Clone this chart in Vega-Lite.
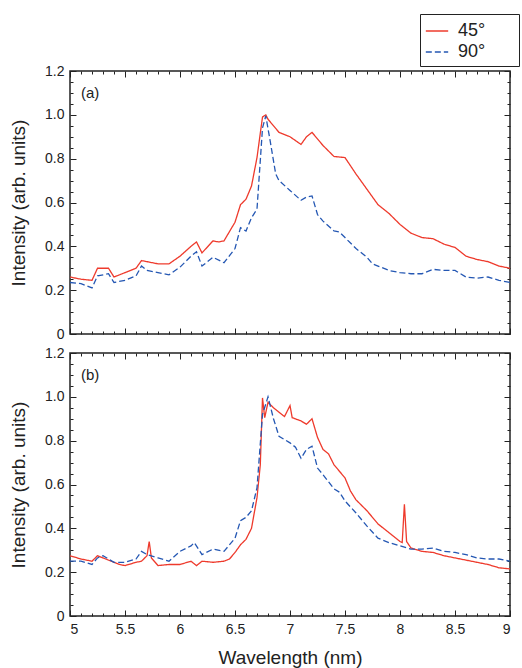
{
  "$schema": "https://vega.github.io/schema/vega-lite/v6.json",
  "padding": {"left": 8, "top": 13, "right": 12, "bottom": 4},
  "config": {
    "font": "Liberation Sans",
    "view": {"stroke": "#222", "strokeWidth": 1.5},
    "axis": {"grid": false, "domain": false, "tickColor": "#222", "labelColor": "#222", "titleColor": "#222", "labelFontSize": 14, "titleFontWeight": "normal", "titleFontSize": 19}
  },
  "spacing": 19,
  "bounds": "flush",
  "datasets": {
    "a": [
      {"wl": 5.0, "I": 0.26, "angle": "45°"}, {"wl": 5.1, "I": 0.25, "angle": "45°"}, {"wl": 5.2, "I": 0.245, "angle": "45°"}, {"wl": 5.25, "I": 0.3, "angle": "45°"},
      {"wl": 5.3, "I": 0.3, "angle": "45°"}, {"wl": 5.35, "I": 0.3, "angle": "45°"}, {"wl": 5.4, "I": 0.26, "angle": "45°"}, {"wl": 5.5, "I": 0.28, "angle": "45°"},
      {"wl": 5.6, "I": 0.3, "angle": "45°"}, {"wl": 5.65, "I": 0.335, "angle": "45°"}, {"wl": 5.7, "I": 0.33, "angle": "45°"}, {"wl": 5.8, "I": 0.32, "angle": "45°"},
      {"wl": 5.9, "I": 0.32, "angle": "45°"}, {"wl": 6.0, "I": 0.355, "angle": "45°"}, {"wl": 6.1, "I": 0.4, "angle": "45°"}, {"wl": 6.15, "I": 0.42, "angle": "45°"},
      {"wl": 6.2, "I": 0.37, "angle": "45°"}, {"wl": 6.3, "I": 0.425, "angle": "45°"}, {"wl": 6.35, "I": 0.42, "angle": "45°"}, {"wl": 6.4, "I": 0.425, "angle": "45°"},
      {"wl": 6.5, "I": 0.51, "angle": "45°"}, {"wl": 6.55, "I": 0.59, "angle": "45°"}, {"wl": 6.6, "I": 0.615, "angle": "45°"}, {"wl": 6.65, "I": 0.675, "angle": "45°"},
      {"wl": 6.7, "I": 0.805, "angle": "45°"}, {"wl": 6.75, "I": 0.99, "angle": "45°"}, {"wl": 6.78, "I": 1.0, "angle": "45°"}, {"wl": 6.8, "I": 0.98, "angle": "45°"},
      {"wl": 6.9, "I": 0.92, "angle": "45°"}, {"wl": 7.0, "I": 0.9, "angle": "45°"}, {"wl": 7.1, "I": 0.865, "angle": "45°"}, {"wl": 7.15, "I": 0.9, "angle": "45°"},
      {"wl": 7.2, "I": 0.92, "angle": "45°"}, {"wl": 7.3, "I": 0.86, "angle": "45°"}, {"wl": 7.4, "I": 0.81, "angle": "45°"}, {"wl": 7.5, "I": 0.805, "angle": "45°"},
      {"wl": 7.6, "I": 0.73, "angle": "45°"}, {"wl": 7.7, "I": 0.66, "angle": "45°"}, {"wl": 7.8, "I": 0.59, "angle": "45°"}, {"wl": 7.9, "I": 0.55, "angle": "45°"},
      {"wl": 8.0, "I": 0.5, "angle": "45°"}, {"wl": 8.1, "I": 0.46, "angle": "45°"}, {"wl": 8.2, "I": 0.44, "angle": "45°"}, {"wl": 8.3, "I": 0.435, "angle": "45°"},
      {"wl": 8.4, "I": 0.41, "angle": "45°"}, {"wl": 8.5, "I": 0.395, "angle": "45°"}, {"wl": 8.6, "I": 0.355, "angle": "45°"}, {"wl": 8.7, "I": 0.34, "angle": "45°"},
      {"wl": 8.8, "I": 0.33, "angle": "45°"}, {"wl": 8.9, "I": 0.31, "angle": "45°"}, {"wl": 9.0, "I": 0.3, "angle": "45°"},
      {"wl": 5.0, "I": 0.235, "angle": "90°"}, {"wl": 5.1, "I": 0.23, "angle": "90°"}, {"wl": 5.2, "I": 0.21, "angle": "90°"}, {"wl": 5.25, "I": 0.265, "angle": "90°"},
      {"wl": 5.35, "I": 0.275, "angle": "90°"}, {"wl": 5.4, "I": 0.235, "angle": "90°"}, {"wl": 5.5, "I": 0.245, "angle": "90°"}, {"wl": 5.6, "I": 0.265, "angle": "90°"},
      {"wl": 5.65, "I": 0.31, "angle": "90°"}, {"wl": 5.7, "I": 0.29, "angle": "90°"}, {"wl": 5.8, "I": 0.28, "angle": "90°"}, {"wl": 5.9, "I": 0.27, "angle": "90°"},
      {"wl": 6.0, "I": 0.305, "angle": "90°"}, {"wl": 6.1, "I": 0.355, "angle": "90°"}, {"wl": 6.15, "I": 0.375, "angle": "90°"}, {"wl": 6.2, "I": 0.31, "angle": "90°"},
      {"wl": 6.3, "I": 0.35, "angle": "90°"}, {"wl": 6.4, "I": 0.325, "angle": "90°"}, {"wl": 6.5, "I": 0.39, "angle": "90°"}, {"wl": 6.55, "I": 0.485, "angle": "90°"},
      {"wl": 6.6, "I": 0.47, "angle": "90°"}, {"wl": 6.65, "I": 0.53, "angle": "90°"}, {"wl": 6.7, "I": 0.57, "angle": "90°"}, {"wl": 6.75, "I": 0.94, "angle": "90°"},
      {"wl": 6.78, "I": 0.995, "angle": "90°"}, {"wl": 6.82, "I": 0.88, "angle": "90°"}, {"wl": 6.87, "I": 0.73, "angle": "90°"}, {"wl": 6.9, "I": 0.7, "angle": "90°"},
      {"wl": 7.0, "I": 0.655, "angle": "90°"}, {"wl": 7.1, "I": 0.61, "angle": "90°"}, {"wl": 7.15, "I": 0.625, "angle": "90°"}, {"wl": 7.2, "I": 0.63, "angle": "90°"},
      {"wl": 7.25, "I": 0.545, "angle": "90°"}, {"wl": 7.3, "I": 0.515, "angle": "90°"}, {"wl": 7.4, "I": 0.47, "angle": "90°"}, {"wl": 7.45, "I": 0.465, "angle": "90°"},
      {"wl": 7.5, "I": 0.44, "angle": "90°"}, {"wl": 7.6, "I": 0.39, "angle": "90°"}, {"wl": 7.7, "I": 0.35, "angle": "90°"}, {"wl": 7.75, "I": 0.32, "angle": "90°"},
      {"wl": 7.8, "I": 0.31, "angle": "90°"}, {"wl": 7.9, "I": 0.29, "angle": "90°"}, {"wl": 8.0, "I": 0.28, "angle": "90°"}, {"wl": 8.1, "I": 0.275, "angle": "90°"},
      {"wl": 8.2, "I": 0.275, "angle": "90°"}, {"wl": 8.3, "I": 0.295, "angle": "90°"}, {"wl": 8.4, "I": 0.29, "angle": "90°"}, {"wl": 8.5, "I": 0.29, "angle": "90°"},
      {"wl": 8.6, "I": 0.26, "angle": "90°"}, {"wl": 8.7, "I": 0.255, "angle": "90°"}, {"wl": 8.8, "I": 0.26, "angle": "90°"}, {"wl": 8.9, "I": 0.245, "angle": "90°"},
      {"wl": 9.0, "I": 0.235, "angle": "90°"}
    ],
    "b": [
      {"wl": 5.0, "I": 0.275, "angle": "45°"}, {"wl": 5.1, "I": 0.26, "angle": "45°"}, {"wl": 5.2, "I": 0.25, "angle": "45°"}, {"wl": 5.25, "I": 0.275, "angle": "45°"},
      {"wl": 5.3, "I": 0.265, "angle": "45°"}, {"wl": 5.4, "I": 0.245, "angle": "45°"}, {"wl": 5.45, "I": 0.235, "angle": "45°"}, {"wl": 5.5, "I": 0.23, "angle": "45°"},
      {"wl": 5.6, "I": 0.245, "angle": "45°"}, {"wl": 5.65, "I": 0.25, "angle": "45°"}, {"wl": 5.7, "I": 0.275, "angle": "45°"}, {"wl": 5.72, "I": 0.34, "angle": "45°"},
      {"wl": 5.74, "I": 0.265, "angle": "45°"}, {"wl": 5.8, "I": 0.23, "angle": "45°"}, {"wl": 5.9, "I": 0.235, "angle": "45°"}, {"wl": 6.0, "I": 0.235, "angle": "45°"},
      {"wl": 6.1, "I": 0.25, "angle": "45°"}, {"wl": 6.15, "I": 0.23, "angle": "45°"}, {"wl": 6.2, "I": 0.25, "angle": "45°"}, {"wl": 6.3, "I": 0.245, "angle": "45°"},
      {"wl": 6.4, "I": 0.25, "angle": "45°"}, {"wl": 6.45, "I": 0.26, "angle": "45°"}, {"wl": 6.5, "I": 0.29, "angle": "45°"}, {"wl": 6.55, "I": 0.325, "angle": "45°"},
      {"wl": 6.6, "I": 0.35, "angle": "45°"}, {"wl": 6.65, "I": 0.4, "angle": "45°"}, {"wl": 6.7, "I": 0.54, "angle": "45°"}, {"wl": 6.73, "I": 0.69, "angle": "45°"},
      {"wl": 6.75, "I": 0.995, "angle": "45°"}, {"wl": 6.77, "I": 0.905, "angle": "45°"}, {"wl": 6.8, "I": 0.975, "angle": "45°"}, {"wl": 6.85, "I": 0.95, "angle": "45°"},
      {"wl": 6.9, "I": 0.93, "angle": "45°"}, {"wl": 6.95, "I": 0.91, "angle": "45°"}, {"wl": 7.0, "I": 0.96, "angle": "45°"}, {"wl": 7.02, "I": 0.905, "angle": "45°"},
      {"wl": 7.1, "I": 0.89, "angle": "45°"}, {"wl": 7.15, "I": 0.875, "angle": "45°"}, {"wl": 7.2, "I": 0.9, "angle": "45°"}, {"wl": 7.25, "I": 0.815, "angle": "45°"},
      {"wl": 7.3, "I": 0.76, "angle": "45°"}, {"wl": 7.35, "I": 0.74, "angle": "45°"}, {"wl": 7.4, "I": 0.69, "angle": "45°"}, {"wl": 7.45, "I": 0.66, "angle": "45°"},
      {"wl": 7.5, "I": 0.63, "angle": "45°"}, {"wl": 7.55, "I": 0.57, "angle": "45°"}, {"wl": 7.6, "I": 0.53, "angle": "45°"}, {"wl": 7.7, "I": 0.48, "angle": "45°"},
      {"wl": 7.8, "I": 0.42, "angle": "45°"}, {"wl": 7.9, "I": 0.38, "angle": "45°"}, {"wl": 8.0, "I": 0.34, "angle": "45°"}, {"wl": 8.02, "I": 0.335, "angle": "45°"},
      {"wl": 8.04, "I": 0.51, "angle": "45°"}, {"wl": 8.06, "I": 0.34, "angle": "45°"}, {"wl": 8.1, "I": 0.31, "angle": "45°"}, {"wl": 8.2, "I": 0.295, "angle": "45°"},
      {"wl": 8.3, "I": 0.29, "angle": "45°"}, {"wl": 8.4, "I": 0.275, "angle": "45°"}, {"wl": 8.5, "I": 0.265, "angle": "45°"}, {"wl": 8.6, "I": 0.255, "angle": "45°"},
      {"wl": 8.7, "I": 0.245, "angle": "45°"}, {"wl": 8.8, "I": 0.235, "angle": "45°"}, {"wl": 8.9, "I": 0.22, "angle": "45°"}, {"wl": 9.0, "I": 0.215, "angle": "45°"},
      {"wl": 5.0, "I": 0.25, "angle": "90°"}, {"wl": 5.1, "I": 0.25, "angle": "90°"}, {"wl": 5.2, "I": 0.235, "angle": "90°"}, {"wl": 5.25, "I": 0.265, "angle": "90°"},
      {"wl": 5.3, "I": 0.275, "angle": "90°"}, {"wl": 5.4, "I": 0.245, "angle": "90°"}, {"wl": 5.5, "I": 0.245, "angle": "90°"}, {"wl": 5.6, "I": 0.26, "angle": "90°"},
      {"wl": 5.65, "I": 0.295, "angle": "90°"}, {"wl": 5.7, "I": 0.28, "angle": "90°"}, {"wl": 5.8, "I": 0.265, "angle": "90°"}, {"wl": 5.9, "I": 0.25, "angle": "90°"},
      {"wl": 6.0, "I": 0.295, "angle": "90°"}, {"wl": 6.1, "I": 0.32, "angle": "90°"}, {"wl": 6.13, "I": 0.335, "angle": "90°"}, {"wl": 6.2, "I": 0.28, "angle": "90°"},
      {"wl": 6.3, "I": 0.305, "angle": "90°"}, {"wl": 6.4, "I": 0.295, "angle": "90°"}, {"wl": 6.5, "I": 0.355, "angle": "90°"}, {"wl": 6.55, "I": 0.435, "angle": "90°"},
      {"wl": 6.6, "I": 0.45, "angle": "90°"}, {"wl": 6.65, "I": 0.48, "angle": "90°"}, {"wl": 6.7, "I": 0.585, "angle": "90°"}, {"wl": 6.75, "I": 0.92, "angle": "90°"},
      {"wl": 6.8, "I": 1.0, "angle": "90°"}, {"wl": 6.85, "I": 0.9, "angle": "90°"}, {"wl": 6.9, "I": 0.82, "angle": "90°"}, {"wl": 7.0, "I": 0.79, "angle": "90°"},
      {"wl": 7.05, "I": 0.77, "angle": "90°"}, {"wl": 7.1, "I": 0.72, "angle": "90°"}, {"wl": 7.15, "I": 0.76, "angle": "90°"}, {"wl": 7.2, "I": 0.775, "angle": "90°"},
      {"wl": 7.25, "I": 0.675, "angle": "90°"}, {"wl": 7.3, "I": 0.645, "angle": "90°"}, {"wl": 7.4, "I": 0.58, "angle": "90°"}, {"wl": 7.45, "I": 0.565, "angle": "90°"},
      {"wl": 7.5, "I": 0.525, "angle": "90°"}, {"wl": 7.6, "I": 0.47, "angle": "90°"}, {"wl": 7.7, "I": 0.41, "angle": "90°"}, {"wl": 7.8, "I": 0.355, "angle": "90°"},
      {"wl": 7.9, "I": 0.335, "angle": "90°"}, {"wl": 8.0, "I": 0.32, "angle": "90°"}, {"wl": 8.1, "I": 0.305, "angle": "90°"}, {"wl": 8.2, "I": 0.305, "angle": "90°"},
      {"wl": 8.3, "I": 0.31, "angle": "90°"}, {"wl": 8.4, "I": 0.295, "angle": "90°"}, {"wl": 8.5, "I": 0.29, "angle": "90°"}, {"wl": 8.6, "I": 0.28, "angle": "90°"},
      {"wl": 8.7, "I": 0.265, "angle": "90°"}, {"wl": 8.8, "I": 0.26, "angle": "90°"}, {"wl": 8.9, "I": 0.26, "angle": "90°"}, {"wl": 9.0, "I": 0.25, "angle": "90°"}
    ],
    "labels": [
      {"panel": "a", "wl": 5.1, "I": 1.1, "text": "(a)"},
      {"panel": "b", "wl": 5.1, "I": 1.1, "text": "(b)"}
    ]
  },
  "vconcat": [
    {
      "width": 440,
      "height": 263,
      "data": {"name": "a"},
      "layer": [
        {
          "mark": {"type": "line", "strokeWidth": 1.3},
          "encoding": {
            "x": {"field": "wl", "type": "quantitative", "scale": {"domain": [5, 9], "nice": false},
              "axis": {"orient": "bottom", "values": [5, 5.5, 6, 6.5, 7, 7.5, 8, 8.5, 9], "tickSize": -6, "labels": false, "title": null}},
            "y": {"field": "I", "type": "quantitative", "scale": {"domain": [0, 1.2], "nice": false},
              "axis": {"orient": "left", "values": [0, 0.2, 0.4, 0.6, 0.8, 1, 1.2], "tickSize": -6, "labelPadding": 12,
                "labelExpr": "datum.value == 0 ? '0' : format(datum.value, '.1f')", "title": "Intensity (arb. units)", "titlePadding": 16}},
            "color": {"field": "angle", "type": "nominal", "scale": {"domain": ["45°", "90°"], "range": ["#ee3a2c", "#2457b3"]},
              "legend": {"title": "000", "titleOrient": "right", "titleOpacity": 0, "titleFontSize": 14, "titlePadding": 5,
                "orient": "none", "legendX": 350, "legendY": -57, "symbolType": "stroke", "symbolSize": 500,
                "symbolStrokeWidth": 1.3, "labelFontSize": 18, "labelColor": "#222", "strokeColor": "#222", "fillColor": "white",
                "padding": 5, "rowPadding": 0, "labelOffset": 9}},
            "strokeDash": {"field": "angle", "type": "nominal", "scale": {"domain": ["45°", "90°"], "range": [[1, 0], [6, 3]]}}
          }
        },
        {
          "mark": {"type": "line", "opacity": 0},
          "encoding": {
            "x": {"field": "wl", "type": "quantitative", "axis": {"orient": "bottom", "values": [5.1, 5.2, 5.3, 5.4, 5.6, 5.7, 5.8, 5.9, 6.1, 6.2, 6.3, 6.4, 6.6, 6.7, 6.8, 6.9, 7.1, 7.2, 7.3, 7.4, 7.6, 7.7, 7.8, 7.9, 8.1, 8.2, 8.3, 8.4, 8.6, 8.7, 8.8, 8.9], "tickSize": -3, "labels": false, "title": null}},
            "y": {"field": "I", "type": "quantitative", "axis": {"orient": "left", "values": [0.05, 0.1, 0.15, 0.25, 0.3, 0.35, 0.45, 0.5, 0.55, 0.65, 0.7, 0.75, 0.85, 0.9, 0.95, 1.05, 1.1, 1.15], "tickSize": -3, "labels": false, "title": null}}
          }
        },
        {
          "mark": {"type": "line", "opacity": 0},
          "encoding": {
            "x": {"field": "wl", "type": "quantitative", "axis": {"orient": "top", "values": [5, 5.5, 6, 6.5, 7, 7.5, 8, 8.5, 9], "tickSize": -6, "labels": false, "title": null}},
            "y": {"field": "I", "type": "quantitative", "axis": {"orient": "right", "values": [0, 0.2, 0.4, 0.6, 0.8, 1, 1.2], "tickSize": -6, "labels": false, "title": null}}
          }
        },
        {
          "mark": {"type": "line", "opacity": 0},
          "encoding": {
            "x": {"field": "wl", "type": "quantitative", "axis": {"orient": "top", "values": [5.1, 5.2, 5.3, 5.4, 5.6, 5.7, 5.8, 5.9, 6.1, 6.2, 6.3, 6.4, 6.6, 6.7, 6.8, 6.9, 7.1, 7.2, 7.3, 7.4, 7.6, 7.7, 7.8, 7.9, 8.1, 8.2, 8.3, 8.4, 8.6, 8.7, 8.8, 8.9], "tickSize": -3, "labels": false, "title": null}},
            "y": {"field": "I", "type": "quantitative", "axis": {"orient": "right", "values": [0.05, 0.1, 0.15, 0.25, 0.3, 0.35, 0.45, 0.5, 0.55, 0.65, 0.7, 0.75, 0.85, 0.9, 0.95, 1.05, 1.1, 1.15], "tickSize": -3, "labels": false, "title": null}}
          }
        },
        {
          "data": {"name": "labels"},
          "transform": [{"filter": "datum.panel == 'a'"}],
          "mark": {"type": "text", "align": "left", "fontSize": 15, "color": "#222"},
          "encoding": {
            "x": {"field": "wl", "type": "quantitative", "axis": null},
            "y": {"field": "I", "type": "quantitative", "axis": null},
            "text": {"field": "text"}
          }
        }
      ],
      "resolve": {"axis": {"x": "independent", "y": "independent"}}
    },
    {
      "width": 440,
      "height": 263,
      "data": {"name": "b"},
      "layer": [
        {
          "mark": {"type": "line", "strokeWidth": 1.3},
          "encoding": {
            "x": {"field": "wl", "type": "quantitative", "scale": {"domain": [5, 9], "nice": false},
              "axis": {"orient": "bottom", "values": [5, 5.5, 6, 6.5, 7, 7.5, 8, 8.5, 9], "tickSize": -6, "labelPadding": 12, "format": "~g", "title": "Wavelength (nm)", "titlePadding": 12}},
            "y": {"field": "I", "type": "quantitative", "scale": {"domain": [0, 1.2], "nice": false},
              "axis": {"orient": "left", "values": [0, 0.2, 0.4, 0.6, 0.8, 1, 1.2], "tickSize": -6, "labelPadding": 12,
                "labelExpr": "datum.value == 0 ? '0' : format(datum.value, '.1f')", "title": "Intensity (arb. units)", "titlePadding": 16}},
            "color": {"field": "angle", "type": "nominal", "scale": {"domain": ["45°", "90°"], "range": ["#ee3a2c", "#2457b3"]}, "legend": null},
            "strokeDash": {"field": "angle", "type": "nominal", "scale": {"domain": ["45°", "90°"], "range": [[1, 0], [6, 3]]}, "legend": null}
          }
        },
        {
          "mark": {"type": "line", "opacity": 0},
          "encoding": {
            "x": {"field": "wl", "type": "quantitative", "axis": {"orient": "bottom", "values": [5.1, 5.2, 5.3, 5.4, 5.6, 5.7, 5.8, 5.9, 6.1, 6.2, 6.3, 6.4, 6.6, 6.7, 6.8, 6.9, 7.1, 7.2, 7.3, 7.4, 7.6, 7.7, 7.8, 7.9, 8.1, 8.2, 8.3, 8.4, 8.6, 8.7, 8.8, 8.9], "tickSize": -3, "labels": false, "title": null}},
            "y": {"field": "I", "type": "quantitative", "axis": {"orient": "left", "values": [0.05, 0.1, 0.15, 0.25, 0.3, 0.35, 0.45, 0.5, 0.55, 0.65, 0.7, 0.75, 0.85, 0.9, 0.95, 1.05, 1.1, 1.15], "tickSize": -3, "labels": false, "title": null}}
          }
        },
        {
          "mark": {"type": "line", "opacity": 0},
          "encoding": {
            "x": {"field": "wl", "type": "quantitative", "axis": {"orient": "top", "values": [5, 5.5, 6, 6.5, 7, 7.5, 8, 8.5, 9], "tickSize": -6, "labels": false, "title": null}},
            "y": {"field": "I", "type": "quantitative", "axis": {"orient": "right", "values": [0, 0.2, 0.4, 0.6, 0.8, 1, 1.2], "tickSize": -6, "labels": false, "title": null}}
          }
        },
        {
          "mark": {"type": "line", "opacity": 0},
          "encoding": {
            "x": {"field": "wl", "type": "quantitative", "axis": {"orient": "top", "values": [5.1, 5.2, 5.3, 5.4, 5.6, 5.7, 5.8, 5.9, 6.1, 6.2, 6.3, 6.4, 6.6, 6.7, 6.8, 6.9, 7.1, 7.2, 7.3, 7.4, 7.6, 7.7, 7.8, 7.9, 8.1, 8.2, 8.3, 8.4, 8.6, 8.7, 8.8, 8.9], "tickSize": -3, "labels": false, "title": null}},
            "y": {"field": "I", "type": "quantitative", "axis": {"orient": "right", "values": [0.05, 0.1, 0.15, 0.25, 0.3, 0.35, 0.45, 0.5, 0.55, 0.65, 0.7, 0.75, 0.85, 0.9, 0.95, 1.05, 1.1, 1.15], "tickSize": -3, "labels": false, "title": null}}
          }
        },
        {
          "data": {"name": "labels"},
          "transform": [{"filter": "datum.panel == 'b'"}],
          "mark": {"type": "text", "align": "left", "fontSize": 15, "color": "#222"},
          "encoding": {
            "x": {"field": "wl", "type": "quantitative", "axis": null},
            "y": {"field": "I", "type": "quantitative", "axis": null},
            "text": {"field": "text"}
          }
        }
      ],
      "resolve": {"axis": {"x": "independent", "y": "independent"}}
    }
  ]
}
